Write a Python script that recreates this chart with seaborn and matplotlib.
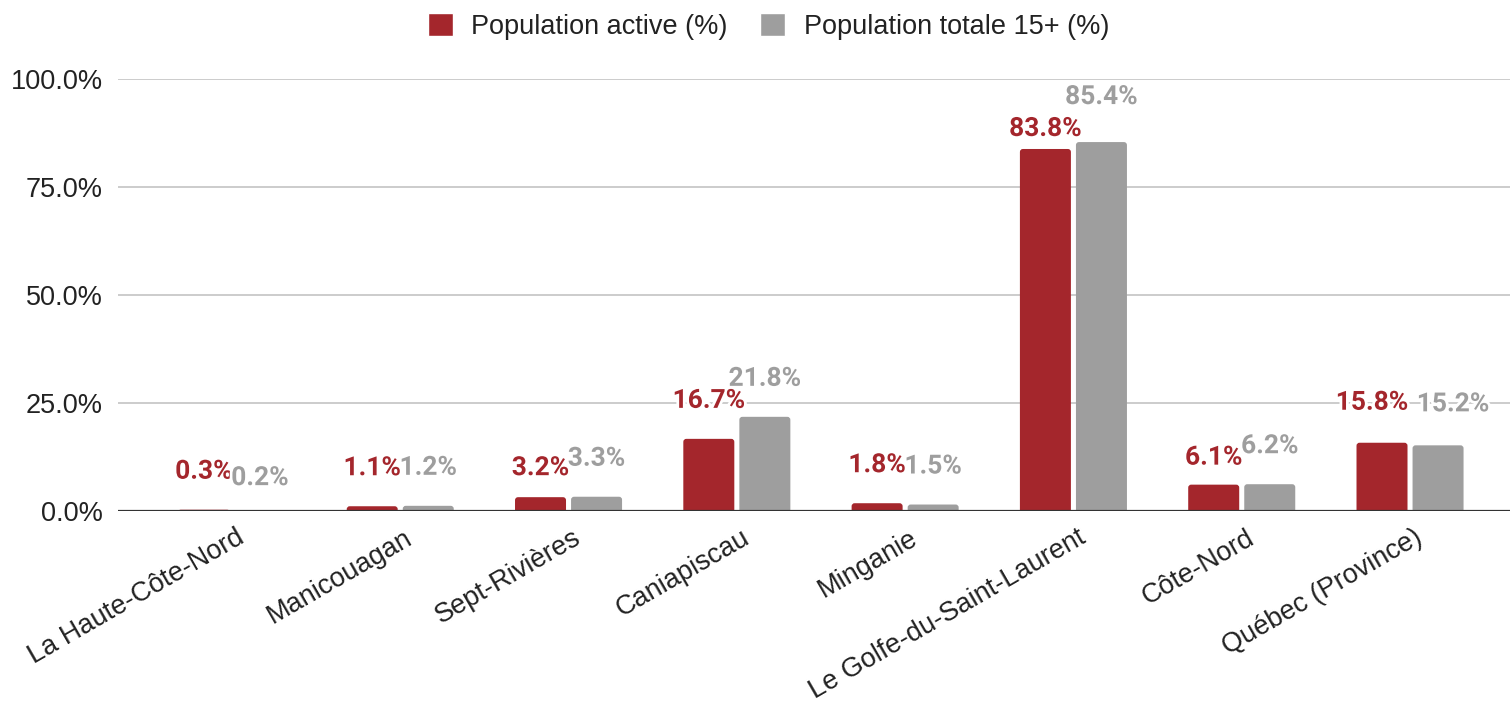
import matplotlib
matplotlib.use("Agg")
import matplotlib.pyplot as plt
import matplotlib.transforms as mtransforms
import matplotlib.patheffects as pe
from matplotlib.patches import Patch, FancyBboxPatch
from matplotlib.ticker import FuncFormatter
import seaborn as sns
import pandas as pd

# --- data -------------------------------------------------------------
regions = [
    "La Haute-Côte-Nord",
    "Manicouagan",
    "Sept-Rivières",
    "Caniapiscau",
    "Minganie",
    "Le Golfe-du-Saint-Laurent",
    "Côte-Nord",
    "Québec (Province)",
]
active = [0.3, 1.1, 3.2, 16.7, 1.8, 83.8, 6.1, 15.8]
total = [0.2, 1.2, 3.3, 21.8, 1.5, 85.4, 6.2, 15.2]
series_names = ["Population active (%)", "Population totale 15+ (%)"]
y_ticks = [0, 25, 50, 75, 100]

# --- style ------------------------------------------------------------
RED = "#A4262C"
GREY = "#9E9E9E"
TEXT = "#222222"

df = pd.DataFrame({
    "Région": regions * 2,
    "Valeur": active + total,
    "Série": [series_names[0]] * len(regions) + [series_names[1]] * len(regions),
})

sns.set_style("white")
plt.rcParams["font.family"] = ["Liberation Sans", "DejaVu Sans"]

W, H = 1510, 705
fig = plt.figure(figsize=(W / 100, H / 100), dpi=100)
ax = fig.add_axes([118 / W, 1 - 511 / H, 1 - 118 / W, (511 - 79) / H])

sns.barplot(
    data=df, x="Région", y="Valeur", hue="Série",
    palette=[RED, GREY], saturation=1, width=0.666, gap=0.09,
    legend=False, ax=ax, zorder=3,
)

XMIN, XMAX, YMAX = -0.677, 7.594, 100
ax.set_xlim(XMIN, XMAX)
ax.set_ylim(0, YMAX)
ax.set_yticks(y_ticks)
ax.yaxis.set_major_formatter(FuncFormatter(lambda v, _: f"{v:.1f}%"))
ax.grid(axis="y", color="#CCCCCC", lw=1.4, zorder=0)
ax.grid(axis="x", visible=False)
ax.set_axisbelow(True)
for sp in ax.spines.values():
    sp.set_visible(False)
ax.axhline(0, color="#333333", lw=1.6, zorder=4)
ax.set_xlabel("")
ax.set_ylabel("")

# swap the square bars for versions with slightly rounded tops
bbox = ax.get_position()
px_per_x = bbox.width * W / (XMAX - XMIN)
px_per_y = bbox.height * H / YMAX
aspect = px_per_x / px_per_y
corner = 3.0 / px_per_x
for container in ax.containers:
    for bar in container:
        x, w, h = bar.get_x(), bar.get_width(), bar.get_height()
        below = corner * aspect
        r = min(corner, (h + below) / aspect / 2)
        rounded = FancyBboxPatch(
            (x, -below), w, h + below,
            boxstyle=f"round,pad=0,rounding_size={r}",
            mutation_aspect=aspect,
            facecolor=bar.get_facecolor(), edgecolor="none", zorder=3,
        )
        ax.add_patch(rounded)
        bar.set_visible(False)

ax.tick_params(axis="y", length=0, pad=11, labelsize=19.5, labelcolor=TEXT)
ax.tick_params(axis="x", length=0, pad=10, labelsize=19.5, labelcolor=TEXT)
ax.set_xticks(range(len(regions)))
ax.set_xticklabels(regions, rotation=30, ha="right", va="top", rotation_mode="anchor")
shift = mtransforms.ScaledTranslation(4 / 100, 0, fig.dpi_scale_trans)
for lbl in ax.get_xticklabels():
    lbl.set_transform(lbl.get_transform() + shift)

# value labels above each bar, nudged where neighbours collide
nudges = {
    (1, 0): (0, -6),
    (0, 2): (0, -9),
    (0, 5): (0, -18),
    (1, 5): (0, 7),
    (0, 6): (0, -11),
    (0, 7): (-10, 2),
    (1, 7): (15, 3),
}
halo = [pe.withStroke(linewidth=4, foreground="white")]
for s, (container, vals, color) in enumerate(zip(ax.containers, [active, total], [RED, GREY])):
    for i, (bar, v) in enumerate(zip(container, vals)):
        dx, dy = nudges.get((s, i), (0, 0))
        ax.annotate(
            f"{v:.1f}%",
            (bar.get_x() + bar.get_width() / 2, v),
            xytext=(dx, 31 + dy), textcoords="offset pixels",
            ha="center", va="baseline", color=color,
            fontsize=19, fontweight="bold", family=["Roboto", "DejaVu Sans"],
            path_effects=halo, zorder=5,
        )

handles = [Patch(facecolor=RED, label=series_names[0]),
           Patch(facecolor=GREY, label=series_names[1])]
fig.legend(
    handles=handles, loc="center", bbox_to_anchor=(0.509, 0.962), ncol=2,
    frameon=False, fontsize=19.5, handlelength=0.9, handleheight=0.9,
    handletextpad=0.7, columnspacing=1.2, labelcolor=TEXT,
)

fig.savefig("out.png", dpi=100)
